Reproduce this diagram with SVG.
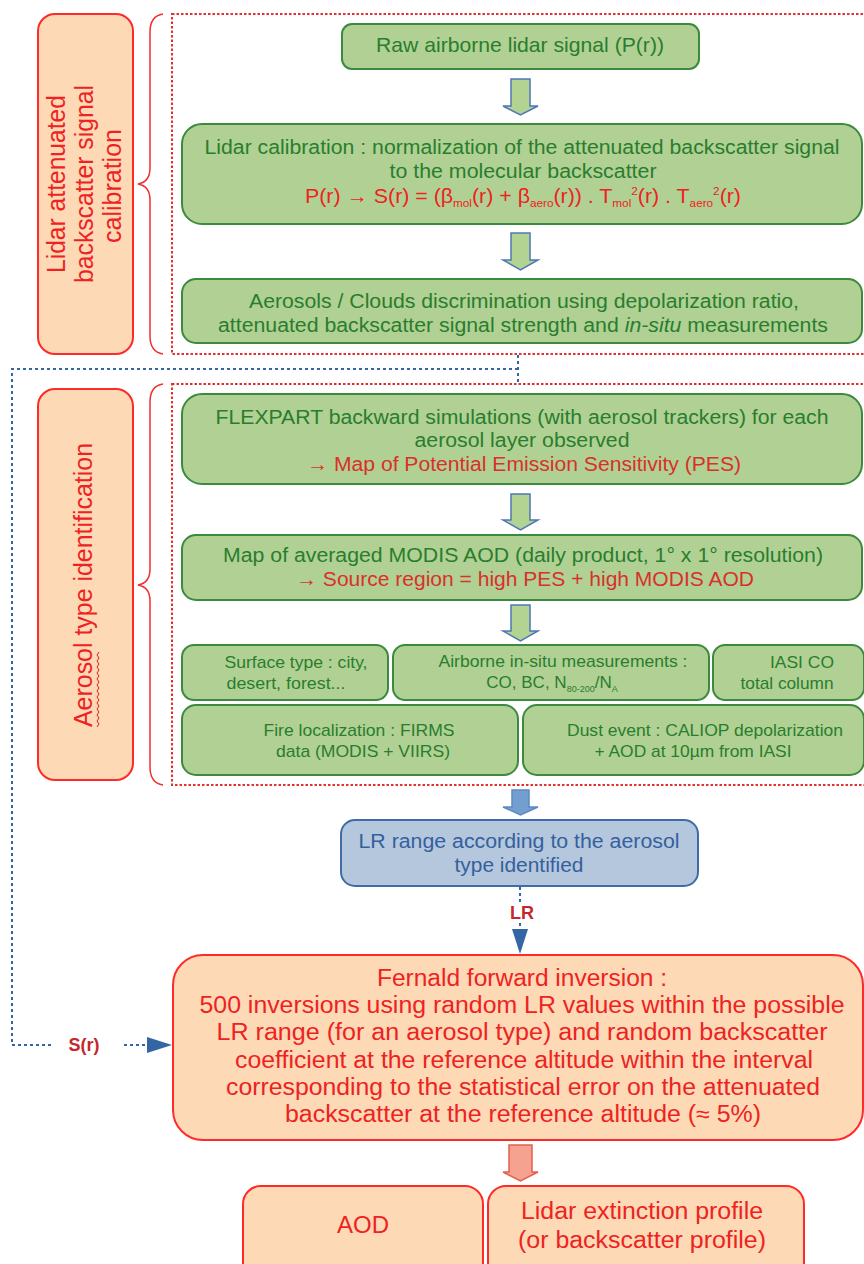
<svg xmlns="http://www.w3.org/2000/svg" width="864" height="1264" viewBox="0 0 864 1264">
<style>
text{font-family:"Liberation Sans Narrow","Liberation Sans",Arial,sans-serif;text-anchor:middle}
.lab{font-family:"Liberation Sans",Arial,sans-serif;font-size:25px;fill:#ee2222}
.gbox{fill:#b0d193;stroke:#3b8a3e;stroke-width:2}
.pbox{fill:#fdd9b5;stroke:#ff2a2a;stroke-width:2}
.bbox{fill:#b4c7dc;stroke:#3f6ca8;stroke-width:2}
.gt{fill:#2a7d2e}
.rt{fill:#ee2222}
.rt2{fill:#d9302c}
.bt{fill:#34609e}
.reddot{fill:none;stroke:#e03030;stroke-width:2;stroke-dasharray:2.5,2}
.brace{fill:none;stroke:#ee3030;stroke-width:1.5}
.garrow{fill:#b3d393;stroke:#4f77b7;stroke-width:1.5}
.bluedot{fill:none;stroke:#3465a4;stroke-width:2;stroke-dasharray:3,3}
.conlab{font-family:"Liberation Sans",Arial,sans-serif;font-weight:bold;font-size:18px;fill:#c4282d}
</style>

<!-- Section 1 -->
<g id="label1">
<rect class="pbox" x="38" y="14" width="95" height="340" rx="17"/>
<g transform="translate(85,184) rotate(-90)">
<text class="lab" x="0" y="-20" textLength="178" lengthAdjust="spacingAndGlyphs">Lidar attenuated</text>
<text class="lab" x="0" y="8" textLength="198" lengthAdjust="spacingAndGlyphs">backscatter signal</text>
<text class="lab" x="-2" y="36">calibration</text>
</g>
</g>
<path id="brace1" class="brace" d="M163,14 Q150,16 150,32 V168 Q150,182 138,184 Q150,186 150,200 V336 Q150,352 163,354"/>
<rect id="group1" class="reddot" x="172" y="14" width="700" height="340"/>

<g id="raw">
<rect class="gbox" x="342" y="24" width="357" height="45" rx="10"/>
<text class="gt" x="520" y="52" font-size="21" textLength="288" lengthAdjust="spacingAndGlyphs">Raw airborne lidar signal (P(r))</text>
</g>

<g id="calib">
<rect class="gbox" x="182" y="124" width="680" height="100" rx="20"/>
<text class="gt" x="522" y="154" font-size="20" textLength="635" lengthAdjust="spacingAndGlyphs">Lidar calibration : normalization of the attenuated backscatter signal</text>
<text class="gt" x="523" y="178" font-size="20" textLength="267" lengthAdjust="spacingAndGlyphs">to the molecular backscatter</text>
<text class="rt" x="523" y="203" font-size="20" textLength="436" lengthAdjust="spacingAndGlyphs">P(r) → S(r) = (β<tspan font-size="11" dy="4">mol</tspan><tspan dy="-4">(r) + β</tspan><tspan font-size="11" dy="4">aero</tspan><tspan dy="-4">(r)) . T</tspan><tspan font-size="11" dy="4">mol</tspan><tspan font-size="11" dy="-12">2</tspan><tspan dy="8">(r) . T</tspan><tspan font-size="11" dy="4">aero</tspan><tspan font-size="11" dy="-12">2</tspan><tspan dy="8">(r)</tspan></text>
</g>

<g id="discrim">
<rect class="gbox" x="182" y="279" width="680" height="64" rx="14"/>
<text class="gt" x="524" y="308" font-size="20" textLength="550" lengthAdjust="spacingAndGlyphs">Aerosols / Clouds discrimination using depolarization ratio,</text>
<text class="gt" x="523" y="332" font-size="20" textLength="610" lengthAdjust="spacingAndGlyphs">attenuated backscatter signal strength and <tspan font-style="italic">in-situ</tspan> measurements</text>
</g>

<!-- Section 2 -->
<g id="label2">
<rect class="pbox" x="38" y="389" width="95" height="391" rx="17"/>
<g transform="translate(85,585) rotate(-90)">
<text class="lab" x="0" y="7" textLength="284" lengthAdjust="spacingAndGlyphs">Aerosol type identification</text>
</g>
<path d="M97,727 l2,-3 l-2,-3 l2,-3 l-2,-3 l2,-3 l-2,-3 l2,-3 l-2,-3 l2,-3 l-2,-3 l2,-3 l-2,-3 l2,-3 l-2,-3 l2,-3 l-2,-3 l2,-3 l-2,-3 l2,-3 l-2,-3 l2,-3 l-2,-3 l2,-3 l-2,-3 l2,-3" fill="none" stroke="#e02020" stroke-width="1"/>
</g>
<path id="brace2" class="brace" d="M163,384 Q150,386 150,402 V569 Q150,583 138,585 Q150,587 150,601 V767 Q150,783 163,785"/>
<rect id="group2" class="reddot" x="172" y="384" width="700" height="401"/>

<g id="flexpart">
<rect class="gbox" x="182" y="394" width="680" height="90" rx="20"/>
<text class="gt" x="522" y="424" font-size="20" textLength="613" lengthAdjust="spacingAndGlyphs">FLEXPART backward simulations (with aerosol trackers) for each</text>
<text class="gt" x="522" y="447" font-size="20" textLength="215" lengthAdjust="spacingAndGlyphs">aerosol layer observed</text>
<text class="rt2" x="524" y="471" font-size="20" textLength="434" lengthAdjust="spacingAndGlyphs">→ Map of Potential Emission Sensitivity (PES)</text>
</g>

<g id="modis">
<rect class="gbox" x="182" y="535" width="680" height="65" rx="14"/>
<text class="gt" x="523" y="562" font-size="20" textLength="600" lengthAdjust="spacingAndGlyphs">Map of averaged MODIS AOD (daily product, 1° x 1° resolution)</text>
<text class="rt2" x="525" y="586" font-size="20" textLength="458" lengthAdjust="spacingAndGlyphs">→ Source region = high PES + high MODIS AOD</text>
</g>

<g id="surface">
<rect class="gbox" x="182" y="645" width="206" height="55" rx="12"/>
<text class="gt" x="296" y="668" font-size="17" textLength="143" lengthAdjust="spacingAndGlyphs">Surface type : city,</text>
<text class="gt" x="286" y="689" font-size="17" textLength="119" lengthAdjust="spacingAndGlyphs">desert, forest...</text>
</g>
<g id="insitu">
<rect class="gbox" x="393" y="645" width="316" height="55" rx="12"/>
<text class="gt" x="563" y="667" font-size="17" textLength="249" lengthAdjust="spacingAndGlyphs">Airborne in-situ measurements :</text>
<text class="gt" x="552" y="688" font-size="17">CO, BC, N<tspan font-size="9" dy="4">80-200</tspan><tspan dy="-4">/N</tspan><tspan font-size="9" dy="4">A</tspan></text>
</g>
<g id="iasi">
<rect class="gbox" x="713" y="645" width="151" height="55" rx="12"/>
<text class="gt" x="802" y="668" font-size="17" textLength="64" lengthAdjust="spacingAndGlyphs">IASI CO</text>
<text class="gt" x="787" y="689" font-size="17" textLength="93" lengthAdjust="spacingAndGlyphs">total column</text>
</g>
<g id="fire">
<rect class="gbox" x="182" y="705" width="336" height="70" rx="14"/>
<text class="gt" x="359" y="736" font-size="17" textLength="191" lengthAdjust="spacingAndGlyphs">Fire localization : FIRMS</text>
<text class="gt" x="363" y="757" font-size="17" textLength="174" lengthAdjust="spacingAndGlyphs">data (MODIS + VIIRS)</text>
</g>
<g id="dust">
<rect class="gbox" x="523" y="705" width="341" height="70" rx="14"/>
<text class="gt" x="705" y="736" font-size="17" textLength="276" lengthAdjust="spacingAndGlyphs">Dust event : CALIOP depolarization</text>
<text class="gt" x="693" y="757" font-size="17" textLength="197" lengthAdjust="spacingAndGlyphs">+ AOD at 10µm from IASI</text>
</g>

<!-- LR -->
<g id="lrrange">
<rect class="bbox" x="341" y="820" width="357" height="66" rx="14"/>
<text class="bt" x="519" y="848" font-size="20" textLength="321" lengthAdjust="spacingAndGlyphs">LR range according to the aerosol</text>
<text class="bt" x="519" y="872" font-size="20" textLength="129" lengthAdjust="spacingAndGlyphs">type identified</text>
</g>

<g id="fernald">
<rect class="pbox" x="173" y="955" width="690" height="185" rx="30"/>
<text class="rt" x="522" y="986" font-size="23" textLength="290" lengthAdjust="spacingAndGlyphs">Fernald forward inversion :</text>
<text class="rt" x="522" y="1013" font-size="23" textLength="645" lengthAdjust="spacingAndGlyphs">500 inversions using random LR values within the possible</text>
<text class="rt" x="522" y="1040" font-size="23" textLength="611" lengthAdjust="spacingAndGlyphs">LR range (for an aerosol type) and random backscatter</text>
<text class="rt" x="524" y="1068" font-size="23" textLength="578" lengthAdjust="spacingAndGlyphs">coefficient at the reference altitude within the interval</text>
<text class="rt" x="523" y="1095" font-size="23" textLength="594" lengthAdjust="spacingAndGlyphs">corresponding to the statistical error on the attenuated</text>
<text class="rt" x="523" y="1122" font-size="23" textLength="476" lengthAdjust="spacingAndGlyphs">backscatter at the reference altitude (≈ 5%)</text>
</g>

<g id="aod">
<rect class="pbox" x="243" y="1186" width="240" height="100" rx="18"/>
<text class="rt" x="363" y="1233" font-size="23" textLength="52" lengthAdjust="spacingAndGlyphs">AOD</text>
</g>
<g id="extinction">
<rect class="pbox" x="488" y="1186" width="316" height="100" rx="18"/>
<text class="rt" x="642" y="1219" font-size="23" textLength="242" lengthAdjust="spacingAndGlyphs">Lidar extinction profile</text>
<text class="rt" x="642" y="1248" font-size="23" textLength="248" lengthAdjust="spacingAndGlyphs">(or backscatter profile)</text>
</g>

<!-- Connectors -->
<g id="connectors">
<path class="garrow" d="M511,79 H530 V106 H538 L520.5,115 L503,106 H511 Z"/>
<path class="garrow" d="M511,233 H530 V260 H538 L520.5,270 L503,260 H511 Z"/>
<path class="garrow" d="M511,494 H530 V520 H538 L520.5,530 L503,520 H511 Z"/>
<path class="garrow" d="M511,605 H530 V631 H538 L520.5,641 L503,631 H511 Z"/>
<path d="M512,790 H529 V807 H538 L520.5,815 L503,807 H512 Z" fill="#729fcf" stroke="#5d8ac0" stroke-width="1.5"/>
<path d="M509,1145 H532 V1172 H538 L520.5,1181 L503,1172 H509 Z" fill="#f6a290" stroke="#e2604e" stroke-width="1.5"/>
<path class="bluedot" d="M518,355 V384 M518,369 H12 V1045 H52 M124,1045 H148"/>
<polygon points="147,1037 147,1053 172,1045" fill="#3465a4"/>
<text class="conlab" x="84" y="1051">S(r)</text>
<path class="bluedot" d="M520,887 V903 M520,923 V929"/>
<polygon points="512,929 528,929 520,954" fill="#3465a4"/>
<text class="conlab" x="522" y="919">LR</text>
</g>
</svg>
